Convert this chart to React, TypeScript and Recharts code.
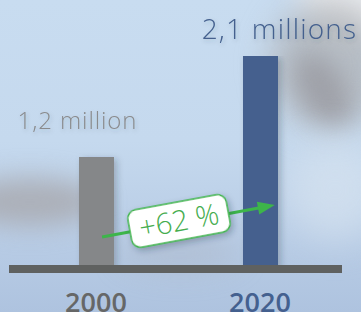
import React from 'react';
import { BarChart, Bar, XAxis, YAxis, Cell, LabelList, ReferenceLine } from 'recharts';

// ---- data ----
const years = ['2000', '2020'];
const values = [1.2, 2.1];
const valueLabels = ['1,2 million', '2,1 millions'];
const changeLabel = '+62 %';
// annotation arrow levels (millions) at the two categories
const arrowLevels = [0.477, 0.747];

// ---- styles ----
const barColors = ['#858789', '#44608e'];
const labelColors = ['#8a8b8d', '#44608e'];
const tickColors = ['#666767', '#44608f'];
const labelSizes = [24, 28];
const labelSpacing = [0.9, 1.2];
const labelDx = [-19, 19];
const labelDy = [-28, -17];
const green = '#3db54a';
const FONT = '"Open Sans", "DejaVu Sans", sans-serif';

const data = years.map((y, i) => ({ year: y, value: values[i] }));

const YearTick = (props: any) => {
  const { x, y, payload, index } = props;
  return (
    <text x={x} y={y} dy={35} textAnchor="middle" fill={tickColors[index]} fontSize={27} fontWeight={600} fontFamily={FONT}>
      {payload.value}
    </text>
  );
};

const ValueLabel = (props: any) => {
  const { x, y, width, index } = props;
  return (
    <text
      x={x + width / 2 + labelDx[index]}
      y={y + labelDy[index]}
      textAnchor="middle"
      fill={labelColors[index]}
      fontSize={labelSizes[index]}
      fontWeight={300}
      letterSpacing={labelSpacing[index]}
      fontFamily={FONT}
      filter="url(#txtShadow)"
    >
      {valueLabels[index]}
    </text>
  );
};

const ArrowShape = (props: any) => {
  const { x1, y1, x2, y2 } = props;
  if ([x1, y1, x2, y2].some((v) => typeof v !== 'number' || isNaN(v))) return null;
  const dx = x2 - x1;
  const dy = y2 - y1;
  const len = Math.sqrt(dx * dx + dy * dy);
  const ux = dx / len;
  const uy = dy / len;
  const t0 = 0.037;
  const t1 = 1.09;
  const sx = x1 + dx * t0;
  const sy = y1 + dy * t0;
  const ex = x1 + dx * t1;
  const ey = y1 + dy * t1;
  const headLen = 17;
  const headHalf = 6.5;
  const bx = ex - ux * headLen;
  const by = ey - uy * headLen;
  const px = -uy;
  const py = ux;
  const angle = (Math.atan2(dy, dx) * 180) / Math.PI;
  const cx = (x1 + x2) / 2 + 1;
  const cy = (y1 + y2) / 2 - 2;
  const bw = 100;
  const bh = 38;
  return (
    <g>
      <line x1={sx} y1={sy} x2={bx + ux * 2} y2={by + uy * 2} stroke={green} strokeWidth={3} />
      <polygon
        points={`${ex},${ey} ${bx + px * headHalf},${by + py * headHalf} ${bx - px * headHalf},${by - py * headHalf}`}
        fill={green}
      />
      <g transform={`translate(${cx},${cy}) rotate(${angle})`}>
        <rect x={-bw / 2} y={-bh / 2} width={bw} height={bh} rx={9} ry={9} fill="#ffffff" stroke={green} strokeWidth={1.5} filter="url(#boxShadow)" />
        <text x={0} y={10} textAnchor="middle" fill="#46ad4f" fontSize={29} fontWeight={300} fontFamily={FONT}>
          {changeLabel}
        </text>
      </g>
    </g>
  );
};

const blob = (style: React.CSSProperties): React.CSSProperties => ({
  position: 'absolute',
  borderRadius: '50%',
  ...style,
});

export default function App() {
  return (
    <div style={{ position: 'relative', width: 361, height: 312, overflow: 'hidden', background: 'linear-gradient(180deg, #c8dcf0 0%, #c5d9ee 45%, #b9cde6 75%, #aec3df 100%)' }}>
      <style>{'body{margin:0}'}</style>
      {/* background blur decoration */}
      <div style={blob({ left: 300, top: -50, width: 120, height: 90, background: 'rgba(238,239,241,0.95)', filter: 'blur(14px)' })} />
      <div style={blob({ left: 270, top: 0, width: 120, height: 130, background: 'rgba(175,177,182,0.75)', filter: 'blur(16px)' })} />
      <div style={blob({ left: 300, top: 50, width: 45, height: 80, background: 'rgba(150,150,156,0.7)', filter: 'blur(12px)', transform: 'rotate(-30deg)' })} />
      <div style={blob({ left: 285, top: 140, width: 100, height: 100, background: 'rgba(214,226,240,0.7)', filter: 'blur(18px)' })} />
      <div style={blob({ left: -40, top: 178, width: 140, height: 48, background: 'rgba(168,168,172,0.8)', filter: 'blur(13px)' })} />
      <div style={blob({ left: 120, top: 235, width: 120, height: 36, background: 'rgba(170,180,195,0.45)', filter: 'blur(14px)' })} />
      <div style={{ position: 'absolute', left: 0, top: 0 }}>
        <BarChart width={361} height={312} data={data} margin={{ top: 56, right: 19, bottom: 13, left: 9 }}>
          <defs>
            <filter id="barShadow" x="-30%" y="-10%" width="160%" height="130%">
              <feDropShadow dx={3} dy={2} stdDeviation={3} floodColor="#203040" floodOpacity={0.25} />
            </filter>
            <filter id="boxShadow" x="-20%" y="-40%" width="140%" height="180%">
              <feDropShadow dx={2} dy={3} stdDeviation={3} floodColor="#203040" floodOpacity={0.3} />
            </filter>
            <filter id="txtShadow" x="-10%" y="-30%" width="120%" height="160%">
              <feDropShadow dx={1} dy={2} stdDeviation={2} floodColor="#304050" floodOpacity={0.2} />
            </filter>
          </defs>
          <YAxis hide domain={[0.202, 2.1]} allowDataOverflow />
          <Bar dataKey="value" barSize={35} isAnimationActive={false} filter="url(#barShadow)">
            {data.map((d, i) => (
              <Cell key={d.year} fill={barColors[i]} />
            ))}
            <LabelList dataKey="value" content={ValueLabel} />
          </Bar>
          <ReferenceLine
            segment={[
              { x: years[0], y: arrowLevels[0] },
              { x: years[1], y: arrowLevels[1] },
            ]}
            ifOverflow="visible"
            shape={ArrowShape}
          />
          <XAxis
            dataKey="year"
            height={30}
            padding={{ left: 5, right: 0 }}
            axisLine={{ stroke: '#5f6160', strokeWidth: 8 }}
            tickLine={false}
            tick={YearTick}
            interval={0}
          />
        </BarChart>
      </div>
    </div>
  );
}
